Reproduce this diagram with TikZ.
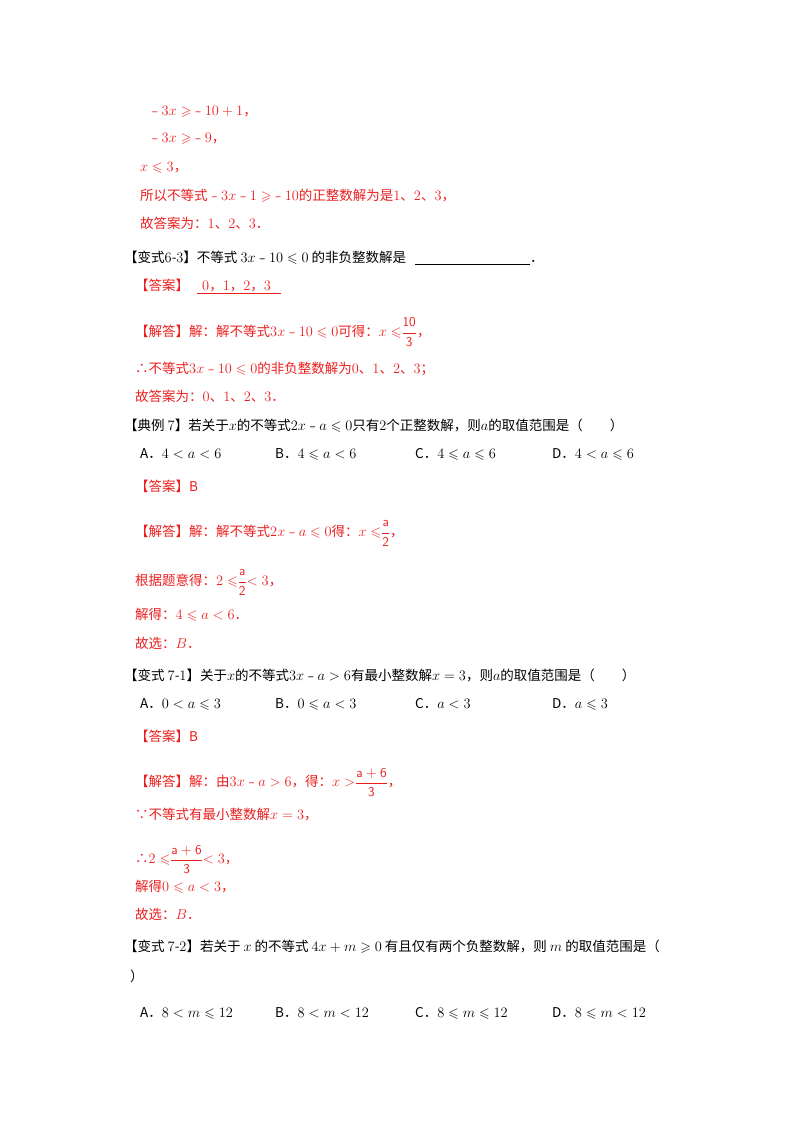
\documentclass[tikz,border=0pt]{standalone}
\usepackage{amsmath,amssymb}
\usepackage{fontspec}
\setmainfont{Liberation Serif}
\newfontfamily\cjk{Noto Sans CJK SC}
\definecolor{ans}{RGB}{235,30,30}
\newcommand{\fr}[2]{\raisebox{-0.1ex}{$\dfrac{\mathsf{#1}}{\mathsf{#2}}$}}
\begin{document}
\begin{tikzpicture}[x=1pt,y=-1pt,
  t/.style={anchor=base west,inner sep=0pt,font=\cjk\fontsize{13.5}{16}\selectfont},
  r/.style={t,text=ans}]
\useasboundingbox (0,0) rectangle (800,1132);
\node[r] (l1) at (148,115) {﹣$3x\geqslant$﹣$10+1$，};
\node[r] (l2) at (148,142) {﹣$3x\geqslant$﹣$9$，};
\node[r] (l3) at (140,171) {$x\leqslant3$，};
\node[r] (l4) at (140,200) {所以不等式﹣$3x$﹣$1\geqslant$﹣$10$的正整数解为是$1$、$2$、$3$，};
\node[r] (l5) at (140,228) {故答案为：$1$、$2$、$3$．};
\node[t] (l6) at (124,262) {【变式$6$-$3$】不等式 $3x$﹣$10\leqslant0$ 的非负整数解是};
\draw (415,264) -- (530,264);
\node[t] (l6b) at (530,262) {．};
\node[r] (l7) at (135,290) {【答案】};
\node[r] (l7b) at (202,290) {$0$，$1$，$2$，$3$};
\draw[ans] (197,293) -- (281,293);
\node[r] (l8) at (135,336) {【解答】解：解不等式$3x$﹣$10\leqslant0$可得：$x\leqslant$\fr{10}{3}，};
\node[r] (l9) at (135,373) {∴不等式$3x$﹣$10\leqslant0$的非负整数解为$0$、$1$、$2$、$3$；};
\node[r] (l10) at (135,401) {故答案为：$0$、$1$、$2$、$3$．};
\node[t] (l11) at (124,430) {【典例 $7$】若关于$x$的不等式$2x$﹣$a\leqslant0$只有$2$个正整数解，则$a$的取值范围是（　　）};
\node[t] (o1) at (140,458) {A．$4<a<6$};
\node[t] (o2) at (275,458) {B．$4\leqslant a<6$};
\node[t] (o3) at (415,458) {C．$4\leqslant a\leqslant6$};
\node[t] (o4) at (552,458) {D．$4<a\leqslant6$};
\node[r] (l12) at (135,491) {【答案】B};
\node[r] (l13) at (135,536) {【解答】解：解不等式$2x$﹣$a\leqslant0$得：$x\leqslant$\fr{a}{2}，};
\node[r] (l14) at (135,585) {根据题意得：$2\leqslant$\fr{a}{2}$<3$，};
\node[r] (l15) at (135,619) {解得：$4\leqslant a<6$．};
\node[r] (l16) at (135,648) {故选：$B$．};
\node[t] (l17) at (124,680) {【变式 $7$-$1$】关于$x$的不等式$3x$﹣$a>6$有最小整数解$x=3$，则$a$的取值范围是（　　）};
\node[t] (p1) at (140,708) {A．$0<a\leqslant3$};
\node[t] (p2) at (275,708) {B．$0\leqslant a<3$};
\node[t] (p3) at (415,708) {C．$a<3$};
\node[t] (p4) at (552,708) {D．$a\leqslant3$};
\node[r] (l18) at (135,741) {【答案】B};
\node[r] (l19) at (135,786) {【解答】解：由$3x$﹣$a>6$，得：$x>$\fr{a+6}{3}，};
\node[r] (l20) at (135,819) {∵不等式有最小整数解$x=3$，};
\node[r] (l21) at (135,863) {∴$2\leqslant$\fr{a+6}{3}$<3$，};
\node[r] (l22) at (135,891) {解得$0\leqslant a<3$，};
\node[r] (l23) at (135,919) {故选：$B$．};
\node[t] (l24) at (124,951) {【变式 $7$-$2$】若关于 $x$ 的不等式 $4x+m\geqslant0$ 有且仅有两个负整数解，则 $m$ 的取值范围是（};
\node[t] (l25) at (130,981) {）};
\node[t] (q1) at (140,1017) {A．$8<m\leqslant12$};
\node[t] (q2) at (275,1017) {B．$8<m<12$};
\node[t] (q3) at (415,1017) {C．$8\leqslant m\leqslant12$};
\node[t] (q4) at (552,1017) {D．$8\leqslant m<12$};
\end{tikzpicture}
\end{document}
